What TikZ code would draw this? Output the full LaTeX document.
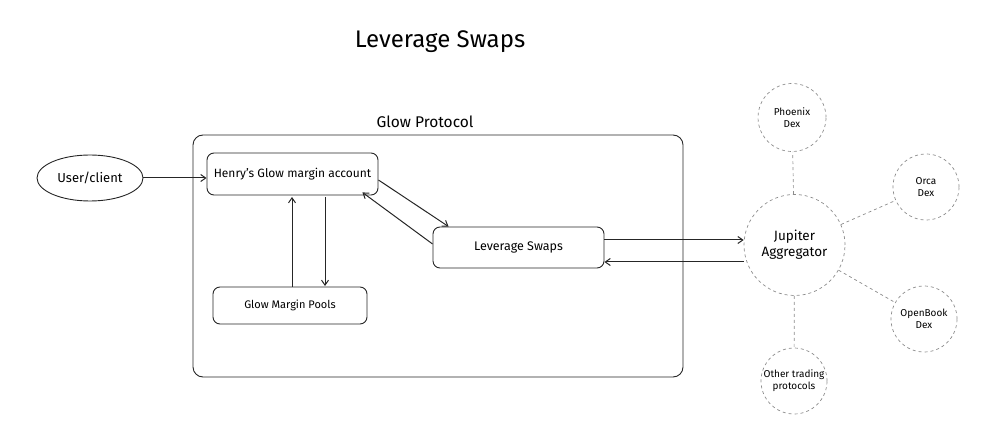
\documentclass[tikz,border=0pt]{standalone}
\usepackage{fontspec}
\setmainfont{Fira Sans}
\usetikzlibrary{arrows.meta,shapes.geometric}
\begin{document}
\begin{tikzpicture}[x=1pt,y=-1pt,
  box/.style={draw=black!85,line width=0.9pt,rounded corners=7pt,align=center,inner sep=0pt},
  dcirc/.style={circle,draw=black!45,dashed,line width=0.7pt,align=center,inner sep=0pt},
  arr/.style={-{Straight Barb[length=5pt,width=7pt]},line width=1pt,draw=black!85},
  dline/.style={draw=black!45,dashed,line width=0.7pt},
  every node/.style={font=\fontsize{10}{12}\selectfont}]
\useasboundingbox (0,0) rectangle (992,443);
\node[font=\fontsize{24}{28}\selectfont] (title) at (440,42) {Leverage Swaps};
\node[font=\fontsize{15.5}{18}\selectfont] (glowlbl) at (425,122) {Glow Protocol};
\node[box,minimum width=490pt,minimum height=242pt,rounded corners=10pt] (glow) at (438,256) {};
\node[draw=black!85,line width=0.9pt,ellipse,minimum width=106pt,minimum height=46pt,inner sep=0pt,font=\fontsize{13}{15}\selectfont] (user) at (90,178) {User/client};
\node[box,minimum width=171pt,minimum height=42pt,font=\fontsize{12}{14}\selectfont] (henry) at (292.5,174) {Henry's Glow margin account};
\node[box,minimum width=154pt,minimum height=37pt,font=\fontsize{11}{13}\selectfont] (pools) at (290,305.5) {Glow Margin Pools};
\node[box,minimum width=171pt,minimum height=41pt,font=\fontsize{12.5}{14}\selectfont] (lev) at (518.5,247.5) {Leverage Swaps};
\node[dcirc,minimum size=101pt,font=\fontsize{13.5}{16}\selectfont] (jup) at (794.5,245) {Jupiter\\Aggregator};
\node[dcirc,minimum size=68pt,font=\fontsize{10}{12}\selectfont] (phx) at (792,117.5) {Phoenix\\Dex};
\node[dcirc,minimum size=66pt,font=\fontsize{10}{12}\selectfont] (orca) at (926,187) {Orca\\Dex};
\node[dcirc,minimum size=66pt,font=\fontsize{10}{12}\selectfont] (ob) at (924,319) {OpenBook\\Dex};
\node[dcirc,minimum size=66pt,font=\fontsize{10}{12}\selectfont] (oth) at (794,381) {Other trading\\protocols};
\draw[arr] (user.east) -- (henry.west |- user.east);
\draw[arr] (henry.east |- 0,180) -- ([xshift=16pt]lev.north west);
\draw[arr] (lev.west |- 0,244) -- ([xshift=-16pt,yshift=3pt]henry.south east);
\draw[arr] (292,287) -- (292,197);
\draw[arr] (325,197) -- (325,286);
\draw[arr] (lev.east |- 0,240) -- (jup.west |- 0,240);
\draw[arr] (jup.west |- 0,262) -- (lev.east |- 0,262);
\draw[dline] (jup) -- (phx);
\draw[dline] (jup) -- (orca);
\draw[dline] (jup) -- (ob);
\draw[dline] (jup) -- (oth);
\end{tikzpicture}
\end{document}
